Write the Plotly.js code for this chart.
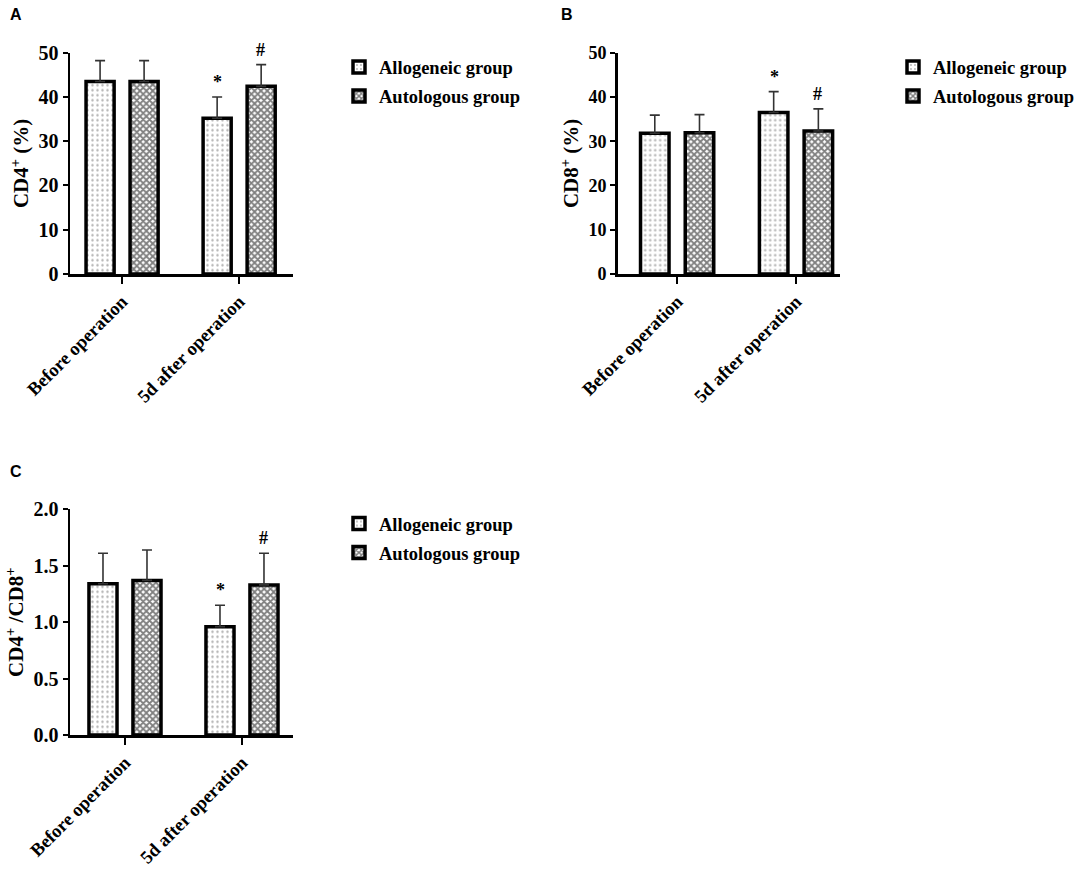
<!DOCTYPE html>
<html><head><meta charset="utf-8">
<script src="https://cdn.plot.ly/plotly-3.0.1.min.js"></script>
<style>html,body{margin:0;padding:0;background:#fff;overflow:hidden}#chart{width:1084px;height:870px}</style>
</head><body><div id="chart"></div>
<script>
const categories = ["Before operation", "5d after operation"];
const seriesNames = ["Allogeneic group", "Autologous group"];

const cd4Allo = [43.5, 35.2];
const cd4AlloErr = [4.7, 4.8];
const cd4Auto = [43.5, 42.4];
const cd4AutoErr = [4.7, 4.9];

const cd8Allo = [31.8, 36.5];
const cd8AlloErr = [4.1, 4.7];
const cd8Auto = [31.9, 32.3];
const cd8AutoErr = [4.1, 5.0];

const ratioAllo = [1.34, 0.96];
const ratioAlloErr = [0.27, 0.19];
const ratioAuto = [1.37, 1.33];
const ratioAutoErr = [0.27, 0.28];

const sigAllo = ["", "*"];
const sigAuto = ["", "#"];

const panelLetters = ["A", "B", "C"];
const yTitles = ["CD4<sup>+</sup> (%)", "CD8<sup>+</sup> (%)", "CD4<sup>+</sup> /CD8<sup>+</sup>"];

const serif = '"Liberation Serif", "Times New Roman", serif';
const W = 1084, H = 870;

const styles = [
  {color: "#ffffff", pattern: {shape: ".", fgcolor: "#666", bgcolor: "#ffffff", size: 5, solidity: 0.18, fillmode: "overlay"}},
  {color: "#ffffff", pattern: {shape: "x", fgcolor: "#000", bgcolor: "#ffffff", size: 4.5, solidity: 0.65, fillmode: "overlay"}}
];

const panels = [
  {vals: [cd4Allo, cd4Auto], errs: [cd4AlloErr, cd4AutoErr], range: [0, 50], dtick: 10, fmt: "d", tick: 20,
   xpx: [70, 293], ypx: [52.7, 274], xr: [-0.445, 1.46], leg: [339, 48.5], letter: [8, 4]},
  {vals: [cd8Allo, cd8Auto], errs: [cd8AlloErr, cd8AutoErr], range: [0, 50], dtick: 10, fmt: "d", tick: 18,
   xpx: [617.7, 840], ypx: [52.7, 274], xr: [-0.50, 1.37], leg: [893, 48.5], letter: [559, 4]},
  {vals: [ratioAllo, ratioAuto], errs: [ratioAlloErr, ratioAutoErr], range: [0, 2.0], dtick: 0.5, fmt: ".1f", tick: 20,
   xpx: [70, 293], ypx: [509.3, 735], xr: [-0.47, 1.436], leg: [339, 505], letter: [8, 461]}
];

const data = [];
const annotations = [];
const layout = {
  width: W, height: H,
  margin: {l: 0, r: 0, t: 0, b: 0, autoexpand: false},
  paper_bgcolor: "#fff", plot_bgcolor: "#fff",
  barmode: "group", bargap: 0.248, bargroupgap: 0.362,
  font: {family: serif, color: "#000"},
  annotations: annotations
};

panels.forEach((p, i) => {
  const sfx = i === 0 ? "" : String(i + 1);
  const legName = "legend" + sfx;
  [0, 1].forEach(s => {
    data.push({
      type: "bar",
      name: seriesNames[s],
      legendgroup: "g" + i + "_" + s,
      x: categories,
      y: p.vals[s],
      xaxis: "x" + sfx, yaxis: "y" + sfx,
      legend: legName,
      marker: {color: styles[s].color, pattern: styles[s].pattern, line: {color: "#000", width: 3.5}},
      error_y: {type: "data", symmetric: false, array: p.errs[s], arrayminus: [0, 0],
                color: "#333", thickness: 1.6, width: 5},
      hoverinfo: "skip"
    });
    const sig = s === 0 ? sigAllo : sigAuto;
    sig.forEach((t, k) => {
      if (!t) return;
      annotations.push({
        text: t, x: k, y: p.vals[s][k] + p.errs[s][k],
        xref: "x" + sfx, yref: "y" + sfx,
        xshift: s === 0 ? -21.5 : 21.5, yshift: 3,
        yanchor: "bottom", showarrow: false,
        font: {family: serif, size: 18, color: "#000", weight: "bold"}
      });
    });
  });
  layout["xaxis" + sfx] = {
    domain: [p.xpx[0] / W, p.xpx[1] / W],
    anchor: "y" + sfx,
    type: "category", range: p.xr,
    showline: true, linecolor: "#000", linewidth: 2.5,
    ticks: "outside", ticklen: 7, tickwidth: 2, tickcolor: "#000",
    tickangle: -45, showgrid: false, zeroline: false, automargin: false,
    tickfont: {family: serif, size: 18.5, color: "#000", weight: "bold"}
  };
  layout["yaxis" + sfx] = {
    domain: [1 - p.ypx[1] / H, 1 - p.ypx[0] / H],
    anchor: "x" + sfx,
    range: p.range, dtick: p.dtick, tickformat: p.fmt,
    showline: true, linecolor: "#000", linewidth: 2.5,
    ticks: "outside", ticklen: 5, tickwidth: 2, tickcolor: "#000",
    showgrid: false, zeroline: false, automargin: false,
    tickfont: {family: serif, size: p.tick, color: "#000", weight: "bold"},
    title: {text: yTitles[i], standoff: 4, font: {family: serif, size: 21, color: "#000", weight: "bold"}}
  };
  layout[legName] = {
    x: p.leg[0] / W, y: 1 - p.leg[1] / H, xanchor: "left", yanchor: "top",
    xref: "paper", yref: "paper",
    bgcolor: "rgba(0,0,0,0)",
    font: {family: serif, size: 18.5, color: "#000", weight: "bold"},
    tracegroupgap: 2, itemwidth: 30
  };
  annotations.push({
    text: panelLetters[i], xref: "paper", yref: "paper",
    x: p.letter[0] / W, y: 1 - p.letter[1] / H, xanchor: "left", yanchor: "top",
    showarrow: false,
    font: {family: '"Liberation Sans", Arial, sans-serif', size: 16, color: "#000", weight: "bold"}
  });
});

Plotly.newPlot("chart", data, layout, {staticPlot: true, displayModeBar: false});
</script>
</body></html>
